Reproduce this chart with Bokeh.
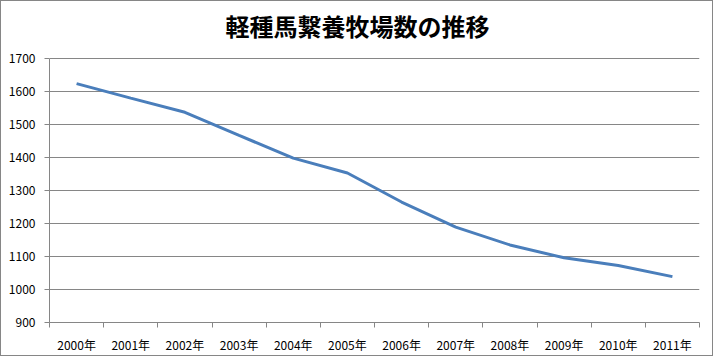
from bokeh.plotting import figure
from bokeh.models import FixedTicker, Range1d, Label
from bokeh.embed import file_html
from bokeh.resources import INLINE

title = "軽種馬繋養牧場数の推移"
years = ["2000年", "2001年", "2002年", "2003年", "2004年", "2005年",
         "2006年", "2007年", "2008年", "2009年", "2010年", "2011年"]
farms = [1624, 1580, 1537, 1467, 1398, 1353, 1265, 1189, 1135, 1096, 1073, 1039]
y_ticks = [900, 1000, 1100, 1200, 1300, 1400, 1500, 1600, 1700]

n = len(years)
xs = [i + 0.5 for i in range(n)]

# frame spans from canvas y=4 to y=321; values 900..1700 occupy y 321..57
top_px, plot_top_px, bottom_px = 4, 57, 321
y_min, y_max = 900, 1700
scale = (bottom_px - plot_top_px) / (y_max - y_min)
y_top = y_max + (plot_top_px - top_px) / scale

p = figure(width=713, height=356, output_backend="svg", toolbar_location=None,
           x_range=Range1d(0, n), y_range=Range1d(y_min, y_top),
           min_border_left=48, min_border_right=15, min_border_bottom=356 - bottom_px,
           min_border_top=top_px)
p.styles = {"border": "1px solid #868686"}

# title above the plotted area (centred on the whole canvas)
p.add_layout(Label(x=(357 - 49) / 650 * n, y=y_max + 100, text=title,
                   text_align="center", text_baseline="middle",
                   text_font="Noto Sans CJK JP", text_font_size="24px",
                   text_font_style="bold", text_color="#000000"))

p.line(xs, farms, line_color="#4a7ebb", line_width=3)

p.outline_line_color = None
p.xgrid.grid_line_color = None
p.ygrid.grid_line_color = "#868686"
p.ygrid.grid_line_width = 1

p.yaxis.ticker = FixedTicker(ticks=y_ticks)
p.yaxis.bounds = (y_min, y_max)
p.yaxis.axis_line_color = "#868686"
p.yaxis.major_tick_line_color = "#868686"
p.yaxis.major_tick_out = 5
p.yaxis.major_tick_in = 0
p.yaxis.minor_tick_line_color = None
p.yaxis.major_label_text_font = "Noto Sans CJK JP"
p.yaxis.major_label_text_font_size = "12px"
p.yaxis.major_label_text_color = "#000000"
p.yaxis.major_label_standoff = 9

p.xaxis.ticker = FixedTicker(ticks=xs, minor_ticks=list(range(n + 1)))
p.xaxis.major_label_overrides = {x: y for x, y in zip(xs, years)}
p.xaxis.axis_line_color = "#868686"
p.xaxis.major_tick_line_color = None
p.xaxis.major_tick_out = 0
p.xaxis.major_tick_in = 0
p.xaxis.minor_tick_line_color = "#868686"
p.xaxis.minor_tick_out = 5
p.xaxis.minor_tick_in = 0
p.xaxis.major_label_text_font = "Noto Sans CJK JP"
p.xaxis.major_label_text_font_size = "12px"
p.xaxis.major_label_text_color = "#000000"
p.xaxis.major_label_standoff = 8

open("out.html", "w").write(file_html(p, INLINE))
